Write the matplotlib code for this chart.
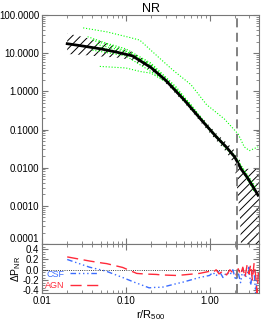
import numpy as np
import matplotlib.pyplot as plt
from matplotlib.ticker import FixedLocator, FormatStrFormatter, AutoMinorLocator, LogLocator, NullFormatter

plt.rcParams.update({
    "font.family": ["Liberation Sans", "DejaVu Sans"],
    "mathtext.default": "regular",
    "font.size": 7,
    "hatch.linewidth": 0.7,
})

# --------------------------------------------------------------------------- #
#                                   Data                                      #
# --------------------------------------------------------------------------- #

# mean NR profile
r_mean = [0.02, 0.03, 0.05, 0.08, 0.12, 0.2, 0.3, 0.5, 0.8, 1.2, 1.6, 2.0, 2.4, 2.8, 3.3, 3.8]
p_mean = [17.7, 15.5, 13.0, 10.5, 8.5, 4.2, 1.94, 0.59, 0.178, 0.065, 0.034, 0.019, 0.009, 0.0057, 0.0032, 0.0019]

# scatter band (hatched)
r_band = [0.02, 0.03, 0.05, 0.08, 0.12, 0.2, 0.3, 0.5, 0.8, 1.2, 1.6, 2.0, 2.3, 2.4, 3.0, 3.9]
band_hi = [33.0, 27.0, 20.5, 14.5, 10.8, 5.1, 2.3, 0.70, 0.215, 0.080, 0.045, 0.028, 0.016, 0.0095, 0.0093, 0.0095]
band_lo = [9.5, 9.0, 8.2, 7.6, 6.6, 3.5, 1.63, 0.50, 0.147, 0.052, 0.025, 0.012, 0.0006, 0.00005, 0.00005, 0.00005]

# individual clusters (green dotted)
green_r = [
    [0.031, 0.06, 0.11, 0.147, 0.25, 0.36, 0.6, 0.92, 1.5, 2.2, 2.6, 3.0, 3.8],
    [0.035, 0.06, 0.1, 0.2, 0.4, 1.0, 2.0, 3.5],
    [0.040, 0.07, 0.1, 0.2, 0.4, 1.0, 2.0, 3.6],
    [0.045, 0.08, 0.12, 0.2, 0.4, 1.0, 2.0, 3.4],
    [0.050, 0.08, 0.12, 0.2, 0.4, 1.0, 2.0, 3.7],
    [0.040, 0.1, 0.3, 1.0, 2.0, 3.5],
    [0.049, 0.1, 0.15, 0.2, 0.36, 0.6, 1.0, 2.0, 3.0],
]
green_p = [
    [46.0, 36.0, 26.0, 22.0, 7.6, 3.7, 1.5, 0.45, 0.19, 0.076, 0.035, 0.028, 0.035],
    [27.0, 18.0, 13.0, 5.5, 1.3, 0.110, 0.021, 0.0028],
    [22.0, 15.0, 11.5, 5.0, 1.2, 0.105, 0.020, 0.0030],
    [17.0, 12.5, 9.5, 4.6, 1.1, 0.100, 0.019, 0.0024],
    [14.0, 11.0, 8.3, 4.3, 1.05, 0.095, 0.018, 0.0020],
    [12.0, 8.5, 1.9, 0.100, 0.019, 0.0025],
    [4.5, 4.1, 3.3, 3.0, 1.4, 0.45, 0.100, 0.019, 0.0045],
]

r_vir = 2.15

# residuals (bottom panel)
r_res = [0.02, 0.037, 0.053, 0.059, 0.092, 0.135, 0.147, 0.19, 0.23, 0.27, 0.40, 0.48, 0.76, 1.0,
         1.1, 1.2, 1.3, 1.45, 1.6, 1.75, 1.9, 2.05, 2.2, 2.35, 2.5, 2.65, 2.8, 2.95,
         3.1, 3.25, 3.4, 3.55, 3.7, 3.85]
agn = [0.25, 0.17, 0.13, 0.12, 0.045, -0.07, -0.075, -0.085, -0.09, -0.10, -0.11, -0.10, -0.07, -0.03,
       -0.05, 0.0, -0.08, -0.02, -0.10, 0.0, -0.06, -0.12, 0.02, -0.10, 0.05, -0.15,
       0.08, -0.08, 0.10, -0.20, 0.12, -0.10, -0.45, 0.0]
csf = [0.20, 0.05, -0.01, -0.03, -0.15, -0.26, -0.28, -0.35, -0.34, -0.34, -0.27, -0.24, -0.15, -0.11,
       -0.05, -0.12, -0.02, -0.15, -0.05, -0.10, 0.0, -0.20, -0.05, -0.25, 0.02, -0.15,
       -0.10, 0.05, -0.30, -0.05, 0.0, -0.45, -0.20, -0.10]

ptick = [1e-4, 1e-3, 1e-2, 1e-1, 1, 10, 100]

# --------------------------------------------------------------------------- #
#                                   Plot                                      #
# --------------------------------------------------------------------------- #

grey = '#777777'
fig = plt.figure(figsize=(2.73, 3.27), dpi=100)
ax = fig.add_axes([0.1538, 0.2538, 0.795, 0.7003])
ax2 = fig.add_axes([0.1538, 0.104, 0.795, 0.1498], sharex=ax)

for a in (ax, ax2):
    for s in a.spines.values():
        s.set_color(grey)
    a.tick_params(which='both', direction='in', top=True, right=True, color=grey, labelsize=7, pad=2)
    a.tick_params(which='major', length=4)
    a.tick_params(which='minor', length=2)

ax.fill_between(r_band, band_lo, band_hi, facecolor='none', edgecolor='k', hatch='////', linewidth=0)
for rr, pp in zip(green_r, green_p):
    ax.plot(rr, pp, color='#00ff00', ls=':', lw=0.8)
ax.plot(r_mean, p_mean, 'k', lw=2)
ax.axvline(r_vir, color=grey, ls=(0, (5, 3)), lw=1.3)

ax.set_xscale('log')
ax.set_yscale('log')
ax.set_xlim(0.01, 3.9)
ax.set_ylim(1e-4, 100)
ax.set_yticks(ptick, ['%.4f' % v for v in ptick])
ax.yaxis.set_minor_locator(LogLocator(base=10, subs=np.arange(2, 10), numticks=20))
ax.yaxis.set_minor_formatter(NullFormatter())
ax.yaxis.get_major_ticks()[0].label1.set_verticalalignment('bottom')
ax.tick_params(labelbottom=False)
ax.set_title('NR', fontsize=9, pad=2)

ax2.axhline(0, color='k', ls=':', lw=0.6)
ax2.plot(r_res, csf, color='#3b6cff', lw=1, ls=(0, (4, 2, 1, 2, 1, 2, 1, 2)), label='CSF')
ax2.plot(r_res, agn, color='#ff2a3a', lw=1, ls=(0, (8, 4)), label='AGN')
ax2.axvline(r_vir, color=grey, ls=(0, (5, 3)), lw=1.3)
ax2.set_ylim(-0.45, 0.5)
ax2.yaxis.set_major_locator(FixedLocator([-0.4, -0.2, 0.0, 0.2, 0.4]))
ax2.yaxis.set_major_formatter(FormatStrFormatter('%.1f'))
ax2.yaxis.set_minor_locator(AutoMinorLocator(4))
ax2.xaxis.set_major_formatter(FormatStrFormatter('%.2f'))
ax2.xaxis.set_minor_formatter(NullFormatter())
ax2.set_xlabel(r'r/R$_{500}$', fontsize=8, labelpad=2)
ax2.set_ylabel(r'$\Delta$P$_{NR}$', fontsize=7.5, labelpad=0)
ax2.legend(loc='lower left', frameon=False, markerfirst=False, labelcolor='linecolor',
           fontsize=6.5, handlelength=3.3, handletextpad=0.6, borderaxespad=0.1,
           labelspacing=0.3, borderpad=0.2)

plt.savefig('out.png', dpi=100)
